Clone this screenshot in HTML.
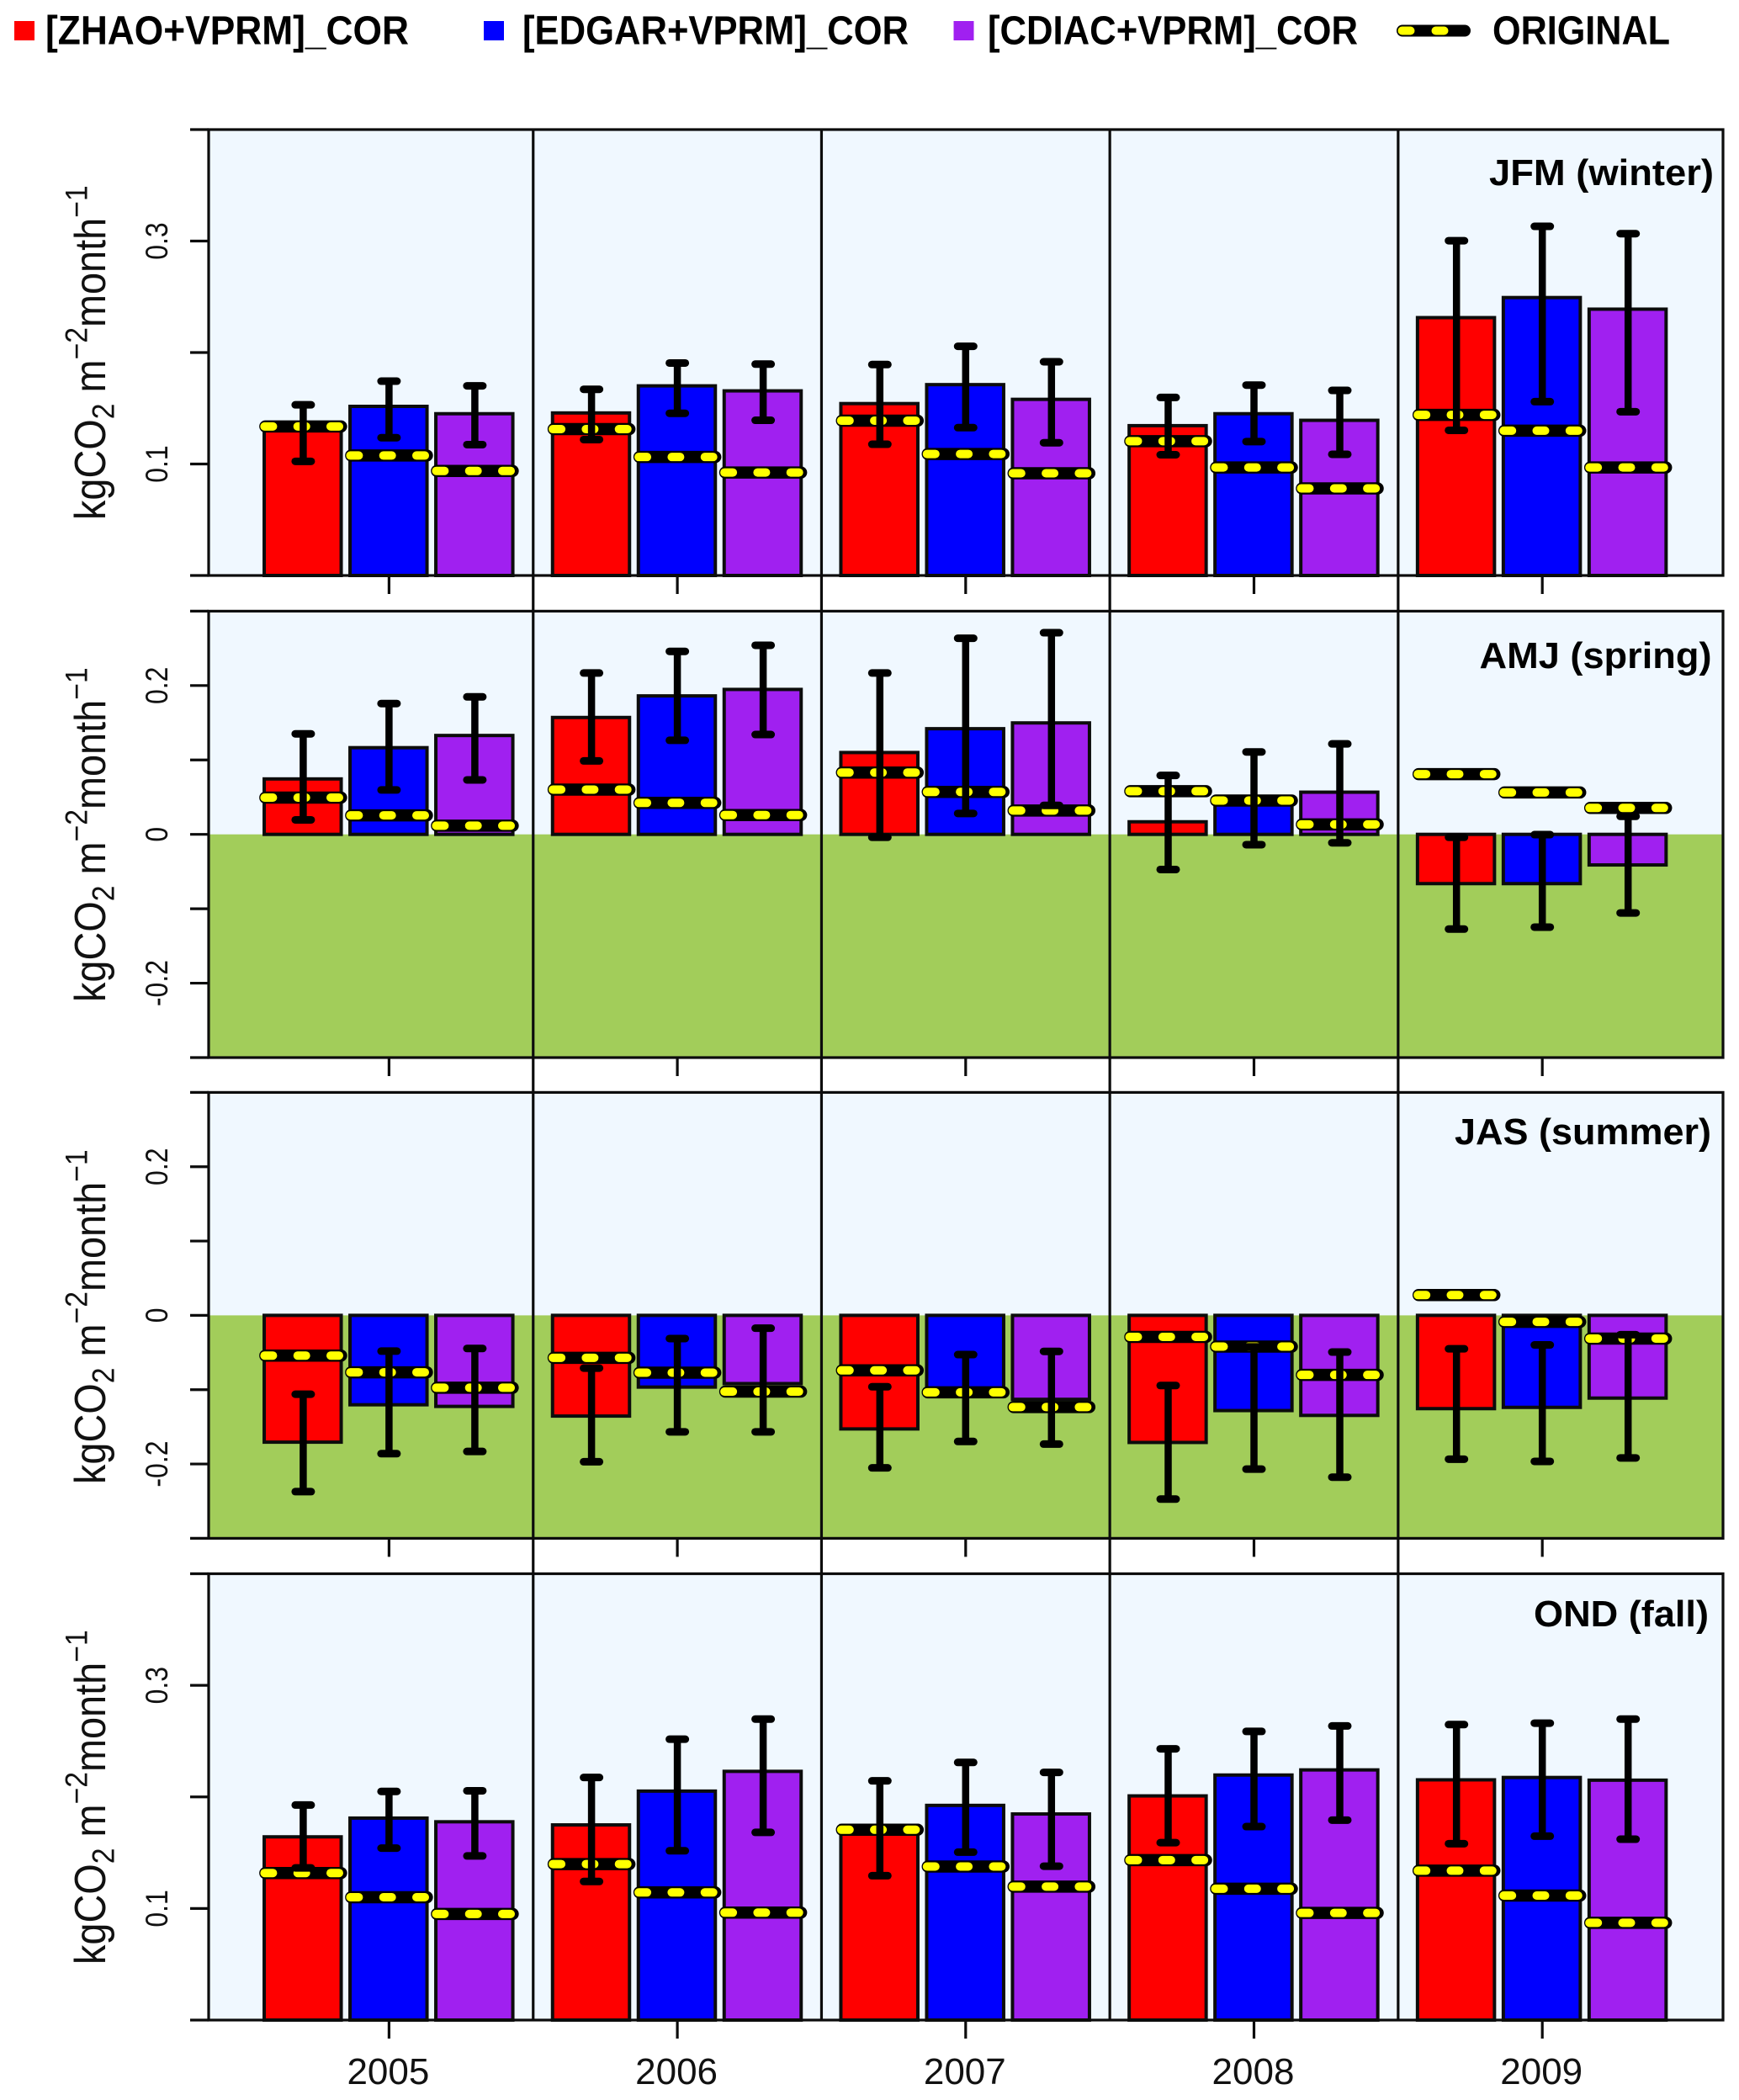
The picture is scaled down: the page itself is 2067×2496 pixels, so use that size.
<!DOCTYPE html>
<html lang="en">
<head>
<meta charset="utf-8">
<title>Seasonal CO2 flux bars 2005-2009</title>
<style>
html,body{margin:0;padding:0;background:#fff;}
svg{display:block;font-family:"Liberation Sans",Arial,sans-serif;}
</style>
</head>
<body>
<svg id="chart" xmlns="http://www.w3.org/2000/svg" width="2067" height="2496" viewBox="0 0 2067 2496"></svg>
<script>
const years = ["2005", "2006", "2007", "2008", "2009"];
const seriesNames = ["zhao", "edgar", "cdiac"];
const seriesColors = ["#ff0000", "#0000ff", "#a020f0"];
const legendLabels = ["[ZHAO+VPRM]_COR", "[EDGAR+VPRM]_COR", "[CDIAC+VPRM]_COR", "ORIGINAL"];
const panelLabels = ["JFM (winter)", "AMJ (spring)", "JAS (summer)", "OND (fall)"];
const ticksPositive = [0, 0.1, 0.2, 0.3, 0.4];
const ticksSymmetric = [-0.3, -0.2, -0.1, 0, 0.1, 0.2, 0.3];
const tickLabelsPositive = ["0.1", "0.3"];
const tickLabelsSymmetric = ["-0.2", "0", "0.2"];

/* Each array holds 15 values: zhao, edgar, cdiac for 2005, then 2006, ... 2009 */
const jfmBar = [0.135,0.1517,0.1451, 0.1458,0.1701,0.1656, 0.1542,0.1712,0.158, 0.1344,0.1451,0.1392, 0.2313,0.2493,0.2389];
const jfmHigh = [0.1531,0.1743,0.1701, 0.167,0.1906,0.1896, 0.1892,0.2056,0.1917, 0.1597,0.1708,0.166, 0.3003,0.3132,0.3066];
const jfmLow = [0.1024,0.1236,0.1174, 0.1219,0.1455,0.1392, 0.1177,0.1326,0.1191, 0.1083,0.1201,0.1087, 0.1302,0.1559,0.1469];
const jfmOriginal = [0.1337,0.1076,0.0938, 0.1313,0.1063,0.0924, 0.1389,0.109,0.0917, 0.1205,0.0969,0.0781, 0.1441,0.1299,0.0969];

const amjBar = [0.0745,0.1165,0.1329, 0.1571,0.1861,0.1948, 0.11,0.142,0.1498, 0.0169,0.049,0.0567, -0.0662,-0.0662,-0.0411];
const amjHigh = [0.1351,0.1758,0.1848, 0.2169,0.2459,0.2541, 0.2169,0.2636,0.271, 0.0792,0.1108,0.1216, -0.0039,-0.0004,0.0242];
const amjLow = [0.0195,0.0597,0.0732, 0.0987,0.1264,0.1342, -0.0039,0.0281,0.039, -0.0472,-0.0139,-0.0113, -0.1273,-0.1247,-0.1056];
const amjOriginal = [0.0494,0.0255,0.0117, 0.0602,0.0424,0.026, 0.0831,0.0571,0.032, 0.058,0.0455,0.0134, 0.081,0.0563,0.0355];

const jasBar = [-0.1706,-0.1203,-0.1225, -0.1355,-0.0965,-0.0918, -0.1528,-0.1074,-0.113, -0.171,-0.1281,-0.1346, -0.1255,-0.1238,-0.1113];
const jasHigh = [-0.1061,-0.0481,-0.0446, -0.071,-0.0312,-0.0173, -0.0961,-0.0528,-0.0485, -0.0944,-0.0424,-0.0494, -0.045,-0.0398,-0.026];
const jasLow = [-0.2372,-0.1861,-0.1831, -0.197,-0.1567,-0.1567, -0.2052,-0.1697,-0.1732, -0.2472,-0.2069,-0.2177, -0.1935,-0.1965,-0.1918];
const jasOriginal = [-0.0541,-0.0766,-0.0974, -0.0571,-0.0771,-0.1026, -0.074,-0.1035,-0.1234, -0.029,-0.042,-0.0801, 0.0273,-0.0087,-0.0312];

const ondBar = [0.1642,0.181,0.1777, 0.1749,0.2052,0.2229, 0.1743,0.1924,0.1847, 0.2009,0.2196,0.2242, 0.2153,0.2174,0.215];
const ondHigh = [0.1927,0.2049,0.2055, 0.2174,0.2517,0.2697, 0.2144,0.2309,0.222, 0.2431,0.2587,0.2636, 0.2648,0.2661,0.2697];
const ondLow = [0.1364,0.1541,0.1471, 0.1242,0.1517,0.1682, 0.1294,0.1505,0.1379, 0.159,0.1734,0.1792, 0.1581,0.1648,0.1621];
const ondOriginal = [0.1318,0.1101,0.0951, 0.1398,0.1144,0.0963, 0.1706,0.1376,0.1196, 0.1434,0.1177,0.096, 0.1339,0.1116,0.0872];

const svg = document.getElementById('chart');
const NS = 'http://www.w3.org/2000/svg';
const INK = '#0c0c0c';
const PLOT_L = 248, PLOT_R = 2048, TICK = 22;
const FIRST_GROUP = 462.4, GROUP_STEP = 342.7, BAR_STEP = 102, BAR_W = 91.5;

function make(tag, attrs, parent) {
  const node = document.createElementNS(NS, tag);
  for (const key in attrs) node.setAttribute(key, attrs[key]);
  (parent || svg).appendChild(node);
  return node;
}
function groupX(yearIndex) { return FIRST_GROUP + GROUP_STEP * yearIndex; }
function barX(yearIndex, seriesIndex) { return groupX(yearIndex) - 0.6 + (seriesIndex - 1) * BAR_STEP; }
function yAxis(panel, value) {
  return panel.bottom - (value - panel.min) / (panel.max - panel.min) * (panel.bottom - panel.top);
}
function solidLine(parent, x1, y1, x2, y2, width, cap) {
  return make('line', {x1: x1, y1: y1, x2: x2, y2: y2, stroke: INK, 'stroke-width': width, 'stroke-linecap': cap || 'butt'}, parent);
}

const panels = [
  {key:'jfm', top:154, bottom:684, min:0, max:0.4, ticks:ticksPositive, tickLabels:tickLabelsPositive, bar:jfmBar, high:jfmHigh, low:jfmLow, original:jfmOriginal, label:panelLabels[0], labelX:1770, labelW:267, labelY:220, titleC:421},
  {key:'amj', top:726.4, bottom:1257, min:-0.3, max:0.3, ticks:ticksSymmetric, tickLabels:tickLabelsSymmetric, bar:amjBar, high:amjHigh, low:amjLow, original:amjOriginal, label:panelLabels[1], labelX:1758.5, labelW:276, labelY:794, titleC:994},
  {key:'jas', top:1298.4, bottom:1828.4, min:-0.3, max:0.3, ticks:ticksSymmetric, tickLabels:tickLabelsSymmetric, bar:jasBar, high:jasHigh, low:jasLow, original:jasOriginal, label:panelLabels[2], labelX:1729, labelW:305, labelY:1360, titleC:1567},
  {key:'ond', top:1870.5, bottom:2401, min:0, max:0.4, ticks:ticksPositive, tickLabels:tickLabelsPositive, bar:ondBar, high:ondHigh, low:ondLow, original:ondOriginal, label:panelLabels[3], labelX:1823, labelW:208, labelY:1933, titleC:2138}
];

/* Legend */
const legend = make('g', {});


const legendSwatchX = [17, 575, 1133.5];
const legendTextX = [54, 621, 1174];
const legendTextW = [432, 459, 440];
seriesNames.forEach(function (name, i) {
  const swatch = make('rect', {x: legendSwatchX[i], y: 25, width: 24, height: 23, fill: seriesColors[i]}, legend);
  
  
  const text = make('text', {x: legendTextX[i], y: 52.5, 'font-size': 48, 'font-weight': 700, fill: '#000', textLength: legendTextW[i], lengthAdjust: 'spacingAndGlyphs'}, legend);
  text.textContent = legendLabels[i];
  
  
});
const legendLine = make('line', {x1: 1667, y1: 36.5, x2: 1741, y2: 36.5, stroke: '#000', 'stroke-width': 14, 'stroke-linecap': 'round'}, legend);


const legendDash = make('line', {x1: 1666.5, y1: 36.5, x2: 1741, y2: 36.5, stroke: '#ffff00', 'stroke-width': 10, 'stroke-linecap': 'round', 'stroke-dasharray': '10 30'}, legend);


const legendOriginalText = make('text', {x: 1774, y: 52.5, 'font-size': 48, 'font-weight': 700, fill: '#000', textLength: 211, lengthAdjust: 'spacingAndGlyphs'}, legend);
legendOriginalText.textContent = legendLabels[3];



/* Panels */
panels.forEach(function (panel) {
  const g = make('g', {});
  
  

  const bg = make('rect', {x: PLOT_L, y: panel.top, width: PLOT_R - PLOT_L, height: panel.bottom - panel.top, fill: '#f0f8ff'}, g);
  
  

  if (panel.min < 0) {
    const zeroY = yAxis(panel, 0);
    const sink = make('rect', {x: PLOT_L, y: zeroY, width: PLOT_R - PLOT_L, height: panel.bottom - zeroY, fill: '#a2cd5a'}, g);
    
    
  }

  years.forEach(function (year, yi) {
    seriesNames.forEach(function (name, si) {
      const idx = yi * 3 + si;
      const cx = barX(yi, si);
      const y0 = yAxis(panel, 0);
      const yv = yAxis(panel, panel.bar[idx]);
      const bar = make('rect', {x: cx - BAR_W / 2, y: Math.min(y0, yv), width: BAR_W, height: Math.abs(y0 - yv), fill: seriesColors[si], stroke: INK, 'stroke-width': 4}, g);
      
      
    });
  });

  years.forEach(function (year, yi) {
    seriesNames.forEach(function (name, si) {
      const idx = yi * 3 + si;
      const cx = groupX(yi) + (si - 1) * BAR_STEP;
      const oy = yAxis(panel, panel.original[idx]);
      const base = make('line', {x1: cx - 45, y1: oy, x2: cx + 45, y2: oy, stroke: '#000', 'stroke-width': 14.5, 'stroke-linecap': 'round'}, g);
      
      
      const dash = make('line', {x1: cx - 46, y1: oy, x2: cx + 46, y2: oy, stroke: '#ffff00', 'stroke-width': 10, 'stroke-linecap': 'round', 'stroke-dasharray': '10 29.3'}, g);
      
      
    });
  });

  years.forEach(function (year, yi) {
    seriesNames.forEach(function (name, si) {
      const idx = yi * 3 + si;
      const cx = groupX(yi) + (si - 1) * BAR_STEP;
      const yh = yAxis(panel, panel.high[idx]);
      const yl = yAxis(panel, panel.low[idx]);
      const stem = solidLine(g, cx, yh, cx, yl, 8.5);
      stem.setAttribute('stroke', '#000');
      
      
      const capHigh = solidLine(g, cx - 9.5, yh, cx + 9.5, yh, 9, 'round');
      capHigh.setAttribute('stroke', '#000');
      
      
      const capLow = solidLine(g, cx - 9.5, yl, cx + 9.5, yl, 9, 'round');
      capLow.setAttribute('stroke', '#000');
      
      
    });
  });

  const frame = make('rect', {x: PLOT_L, y: panel.top, width: PLOT_R - PLOT_L, height: panel.bottom - panel.top, fill: 'none', stroke: INK, 'stroke-width': 3.2}, g);
  
  

  panel.ticks.forEach(function (value) {
    const ty = yAxis(panel, value);
    const tick = solidLine(g, PLOT_L - TICK, ty, PLOT_L, ty, 3.2);
    
    
  });
  panel.tickLabels.forEach(function (label) {
    const ty = yAxis(panel, parseFloat(label));
    const t = make('text', {transform: 'translate(199,' + ty + ') rotate(-90) scale(0.94,1.1)', 'text-anchor': 'middle', 'font-size': 34, fill: '#111'}, g);
    t.textContent = label;
    
    
  });

  years.forEach(function (year, yi) {
    const tick = solidLine(g, groupX(yi), panel.bottom, groupX(yi), panel.bottom + TICK, 3.2);
    
    
  });

  const title = make('text', {transform: 'translate(125,' + (panel.titleC + 197) + ') rotate(-90) scale(0.937,1.03)', 'font-size': 50, fill: '#111'}, g);
  
  
  [['kgCO', 0, 50], ['2', 10, 36], [' m', -10, 50], ['\u22122', -21, 36], ['month', 21, 50], ['\u22121', -21, 36]].forEach(function (part) {
    const span = make('tspan', {dy: part[1], 'font-size': part[2]}, title);
    span.textContent = part[0];
    span.setAttribute('xml:space', 'preserve');
    
    
  });

  const label = make('text', {x: panel.labelX, y: panel.labelY, 'font-size': 44, 'font-weight': 700, fill: '#000', textLength: panel.labelW, lengthAdjust: 'spacingAndGlyphs'}, g);
  label.textContent = panel.label;
  
  
});

/* Year separators run through all the panels */
years.slice(1).forEach(function (year, i) {
  const x = (groupX(i) + groupX(i + 1)) / 2;
  const sep = solidLine(svg, x, panels[0].top, x, panels[3].bottom, 3.2);
  
  
});

/* Year labels */
years.forEach(function (year, yi) {
  const t = make('text', {x: groupX(yi) - 1, y: 2477, 'text-anchor': 'middle', 'font-size': 44, fill: '#111'});
  t.textContent = year;
  
  
});
</script>
</body>
</html>
